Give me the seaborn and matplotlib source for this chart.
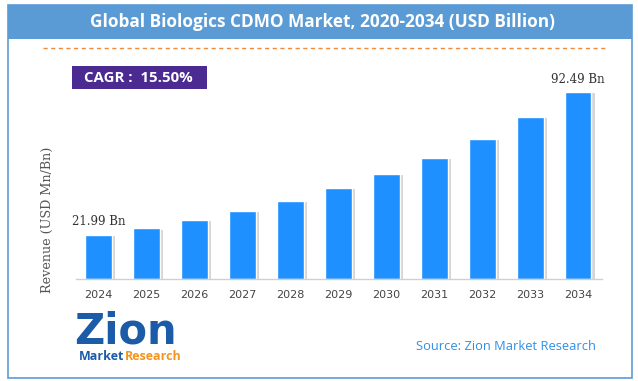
import matplotlib
matplotlib.use('Agg')
import matplotlib.pyplot as plt
import matplotlib.patheffects as pe
from matplotlib.patches import Rectangle
from matplotlib.lines import Line2D
import seaborn as sns

# chart data
years = ['2024', '2025', '2026', '2027', '2028', '2029',
         '2030', '2031', '2032', '2033', '2034']
revenue = [21.99, 25.1, 29.2, 33.7, 38.6, 45.2, 52.0, 59.9, 69.3, 80.2, 92.49]
first_label = '21.99 Bn'
last_label = '92.49 Bn'
title = 'Global Biologics CDMO Market, 2020-2034 (USD Billion)'
cagr_text = 'CAGR :  15.50%'
y_title = 'Revenue (USD Mn/Bn)'
source = 'Source: Zion Market Research'

sns.set_theme(style='white')
plt.rcParams['font.family'] = ['DejaVu Sans']

W, H = 638, 381
fig = plt.figure(figsize=(W / 100, H / 100), dpi=100)
fig.patch.set_facecolor('white')


def fx(px):
    return px / W


def fy(py):
    return 1 - py / H


# frame + title bar
fig.patches.append(Rectangle((fx(8), fy(39)), fx(632) - fx(8), fy(5) - fy(39),
                             transform=fig.transFigure, facecolor='#5B9BD5',
                             edgecolor='none', zorder=0))
fig.patches.append(Rectangle((fx(8), fy(378)), fx(632) - fx(8), fy(5) - fy(378),
                             transform=fig.transFigure, facecolor='none',
                             edgecolor='#5B9BD5', linewidth=1.2, zorder=0))
fig.text(fx(322), fy(22), title, color='white', fontsize=12.4, fontweight='bold',
         family='Open Sans', ha='center', va='center')
fig.lines.append(Line2D([fx(43), fx(607)], [fy(48), fy(48)], transform=fig.transFigure,
                        color='#F08A3C', linewidth=1, linestyle=(0, (3, 2.5))))

# CAGR box
fig.patches.append(Rectangle((fx(72), fy(89)), fx(207) - fx(72), fy(66) - fy(89),
                             transform=fig.transFigure, facecolor='#4B2A91',
                             edgecolor='none'))
fig.text(fx(138), fy(77.5), cagr_text, color='white', fontsize=10.8, fontweight='bold',
         family='Open Sans', ha='center', va='center')

# bars
ax = fig.add_axes([fx(76), fy(279), fx(602) - fx(76), fy(70) - fy(279)])
ax.set_facecolor('none')
sns.barplot(x=years, y=revenue, color='#1E90FF', saturation=1, width=0.56, ax=ax)
for bar in ax.patches:
    bar.set_path_effects([pe.SimplePatchShadow(offset=(2.2, -1), shadow_rgbFace='#888888',
                                               alpha=0.35), pe.Normal()])
ax.set_xlim(-0.47, 10.5)
ax.set_ylim(0, 103.4)
ax.set_yticks([])
ax.set_xlabel('')
ax.set_ylabel('')
for s in ['top', 'right', 'left']:
    ax.spines[s].set_visible(False)
ax.spines['bottom'].set_color('#D0D0D0')
ax.spines['bottom'].set_linewidth(1)
ax.tick_params(axis='x', length=0, pad=8, labelsize=8, labelcolor='#444444')

ax.text(0, revenue[0] + 3, first_label, ha='center', va='bottom', family='DejaVu Serif',
        fontsize=8.5, color='#333333')
ax.text(len(years) - 1, revenue[-1] + 3, last_label, ha='center', va='bottom',
        family='DejaVu Serif', fontsize=8.5, color='#333333')

fig.text(fx(47), fy(220), y_title, rotation=90, ha='center', va='center',
         family='DejaVu Serif', fontsize=9.2, color='#555555')

# logo and source
fig.text(fx(125), fy(331), 'Zion', ha='center', va='center', fontsize=30,
         fontweight='bold', color='#1C5BA8', family='DejaVu Sans')
fig.text(fx(124), fy(357), 'Market', ha='right', va='center', fontsize=9,
         fontweight='bold', color='#1C5BA8', family='Open Sans')
fig.text(fx(125), fy(357), 'Research', ha='left', va='center', fontsize=9,
         fontweight='bold', color='#F7941D', family='Open Sans')
fig.text(fx(506), fy(346), source, ha='center', va='center', fontsize=9.3,
         color='#2E8FE8', family='Open Sans')

fig.savefig('out.png', dpi=100)
